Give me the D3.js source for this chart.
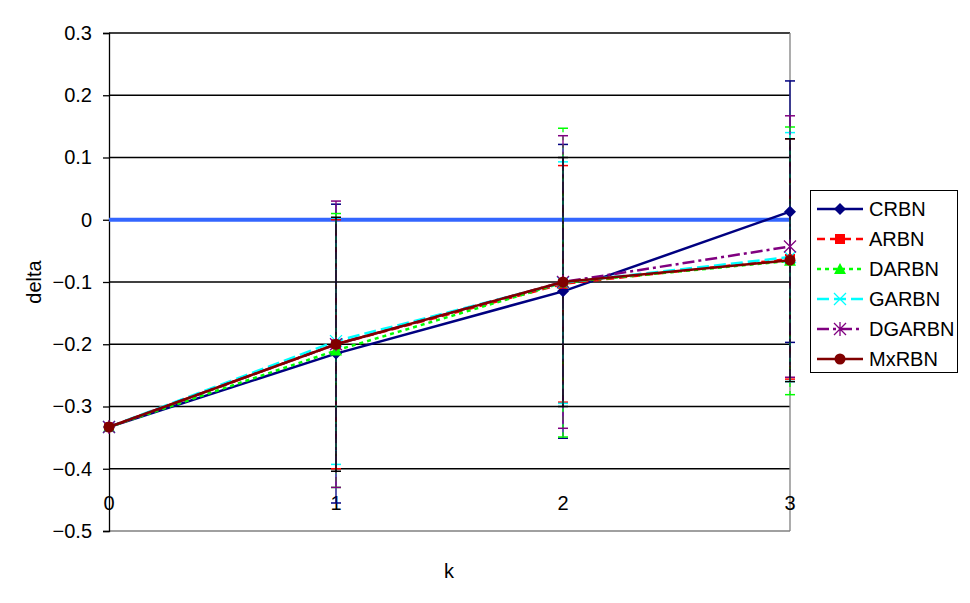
<!DOCTYPE html>
<html>
<head>
<meta charset="utf-8">
<script src="https://cdn.jsdelivr.net/npm/d3@7"></script>
<style>
  body { margin: 0; background: #fff; }
  text { font-family: "Liberation Sans", Arial, sans-serif; }
</style>
</head>
<body>
<div id="chart"></div>
<script>
// data
const kValues = [0, 1, 2, 3];
const seriesNames = ["CRBN", "ARBN", "DARBN", "GARBN", "DGARBN", "MxRBN"];
const crbn = [-0.333, -0.215, -0.115, 0.013];
const arbn = [-0.333, -0.200, -0.103, -0.063];
const darbn = [-0.333, -0.210, -0.101, -0.066];
const garbn = [-0.333, -0.195, -0.101, -0.060];
const dgarbn = [-0.333, -0.200, -0.100, -0.043];
const mxrbn = [-0.333, -0.200, -0.100, -0.065];
// error bar half-widths
const crbnErr = [0, 0.24, 0.236, 0.21];
const arbnErr = [0, 0.20, 0.19, 0.193];
const darbnErr = [0, 0.22, 0.248, 0.215];
const garbnErr = [0, 0.198, 0.194, 0.20];
const dgarbnErr = [0, 0.23, 0.235, 0.21];
const mxrbnErr = [0, 0.204, 0.20, 0.195];
const yTicks = [0.3, 0.2, 0.1, 0, -0.1, -0.2, -0.3, -0.4, -0.5];
const zeroLine = [0, 0];

(function () {
  const W = 970, H = 603;
  const left = 109, right = 790, top = 33, bottom = 531;
  const fs = 20;

  const svg = d3.select("#chart").append("svg")
    .attr("width", W).attr("height", H);

  const x = d3.scaleLinear().domain([0, 3]).range([left, right]);
  const y = d3.scaleLinear().domain([-0.5, 0.3]).range([bottom, top]);

  const series = [
    { name: seriesNames[0], v: crbn, e: crbnErr, color: "#000080", dash: null, marker: "diamond", errColor: "#000080" },
    { name: seriesNames[1], v: arbn, e: arbnErr, color: "#ff0000", dash: "8,5", marker: "square", errColor: "#ff0000" },
    { name: seriesNames[2], v: darbn, e: darbnErr, color: "#00ff00", dash: "4,4", marker: "triangle", errColor: "#00ff00" },
    { name: seriesNames[3], v: garbn, e: garbnErr, color: "#00ffff", dash: "12,5", marker: "x", errColor: "#00ffff" },
    { name: seriesNames[4], v: dgarbn, e: dgarbnErr, color: "#800080", dash: "12,4,3,4", marker: "star", errColor: "#800080" },
    { name: seriesNames[5], v: mxrbn, e: mxrbnErr, color: "#800000", dash: null, marker: "circle", errColor: "#000000" },
  ];

  // gridlines
  svg.append("g").selectAll("line").data(yTicks).join("line")
    .attr("x1", left).attr("x2", right)
    .attr("y1", d => y(d)).attr("y2", d => y(d))
    .attr("stroke", d => d === -0.5 ? "#808080" : "#000")
    .attr("stroke-width", 1.3);

  // right border
  svg.append("line").attr("x1", right).attr("x2", right)
    .attr("y1", top).attr("y2", bottom).attr("stroke", "#808080").attr("stroke-width", 1.3);

  // y axis
  const yAxis = svg.append("g").attr("transform", `translate(${left},0)`)
    .call(d3.axisLeft(y).tickValues(yTicks).tickSize(6).tickPadding(11)
      .tickFormat(d => d === 0 ? "0" : d3.format(".1f")(d)));
  yAxis.select(".domain").attr("stroke", "#000").attr("stroke-width", 1.3);
  yAxis.selectAll(".tick line").attr("stroke", "#000").attr("stroke-width", 1.3);
  yAxis.selectAll("text").attr("font-size", fs).attr("fill", "#000")
    .style("font-family", "'Liberation Sans', Arial, sans-serif");

  // x tick labels (inside the plot, as in the original)
  svg.append("g").selectAll("text").data(kValues).join("text")
    .attr("x", d => x(d)).attr("y", 510)
    .attr("text-anchor", "middle").attr("font-size", fs)
    .text(d => d);

  // axis titles
  svg.append("text").attr("x", 449).attr("y", 578).attr("text-anchor", "middle")
    .attr("font-size", fs).text("k");
  svg.append("text").attr("transform", "translate(41,282) rotate(-90)")
    .attr("text-anchor", "middle").attr("font-size", fs).text("delta");

  // zero reference line
  svg.append("line")
    .attr("x1", x(0)).attr("x2", x(3))
    .attr("y1", y(zeroLine[0])).attr("y2", y(zeroLine[1]))
    .attr("stroke", "#3366ff").attr("stroke-width", 4);

  // error bars
  series.forEach(s => {
    const g = svg.append("g");
    kValues.forEach((k, i) => {
      if (!s.e[i]) return;
      const cx = x(k), y1 = y(s.v[i] + s.e[i]), y2 = y(s.v[i] - s.e[i]);
      g.append("line").attr("x1", cx).attr("x2", cx).attr("y1", y1).attr("y2", y2)
        .attr("stroke", s.errColor).attr("stroke-width", 1.3)
        .attr("stroke-dasharray", s.errColor === "#000000" ? null : s.dash);
      [y1, y2].forEach(yy => g.append("line")
        .attr("x1", cx - 5).attr("x2", cx + 5).attr("y1", yy).attr("y2", yy)
        .attr("stroke", s.errColor).attr("stroke-width", 1.5));
    });
  });

  const line = d3.line().x((d, i) => x(kValues[i])).y(d => y(d));

  function drawMarker(g, type, cx, cy, color) {
    if (type === "diamond") {
      g.append("path").attr("d", `M${cx},${cy - 6}L${cx + 6},${cy}L${cx},${cy + 6}L${cx - 6},${cy}Z`)
        .attr("fill", color);
    } else if (type === "square") {
      g.append("rect").attr("x", cx - 5).attr("y", cy - 5).attr("width", 10).attr("height", 10)
        .attr("fill", color);
    } else if (type === "triangle") {
      g.append("path").attr("d", `M${cx},${cy - 6}L${cx + 6},${cy + 5}L${cx - 6},${cy + 5}Z`)
        .attr("fill", color);
    } else if (type === "x") {
      g.append("path").attr("d", `M${cx - 6},${cy - 6}L${cx + 6},${cy + 6}M${cx + 6},${cy - 6}L${cx - 6},${cy + 6}`)
        .attr("stroke", color).attr("stroke-width", 1.3);
    } else if (type === "star") {
      g.append("path").attr("d", `M${cx - 6},${cy - 6}L${cx + 6},${cy + 6}M${cx + 6},${cy - 6}L${cx - 6},${cy + 6}M${cx},${cy - 7}L${cx},${cy + 7}`)
        .attr("stroke", color).attr("stroke-width", 1.3);
    } else if (type === "circle") {
      g.append("circle").attr("cx", cx).attr("cy", cy).attr("r", 5.5).attr("fill", color);
    }
  }

  // series lines and markers
  series.forEach(s => {
    svg.append("path").datum(s.v).attr("d", line)
      .attr("fill", "none").attr("stroke", s.color).attr("stroke-width", 2.5)
      .attr("stroke-dasharray", s.dash);
    const g = svg.append("g");
    s.v.forEach((v, i) => drawMarker(g, s.marker, x(kValues[i]), y(v), s.color));
  });

  // legend
  const lg = svg.append("g");
  lg.append("rect").attr("x", 810.5).attr("y", 190.5).attr("width", 147).attr("height", 182)
    .attr("fill", "#fff").attr("stroke", "#000").attr("stroke-width", 1);
  series.forEach((s, i) => {
    const ly = 209 + i * 30;
    lg.append("line").attr("x1", 817).attr("x2", 863).attr("y1", ly).attr("y2", ly)
      .attr("stroke", s.color).attr("stroke-width", 2.5).attr("stroke-dasharray", s.dash);
    drawMarker(lg, s.marker, 840, ly, s.color);
    lg.append("text").attr("x", 869).attr("y", ly + 7).attr("font-size", fs).text(s.name);
  });
})();
</script>
</body>
</html>
